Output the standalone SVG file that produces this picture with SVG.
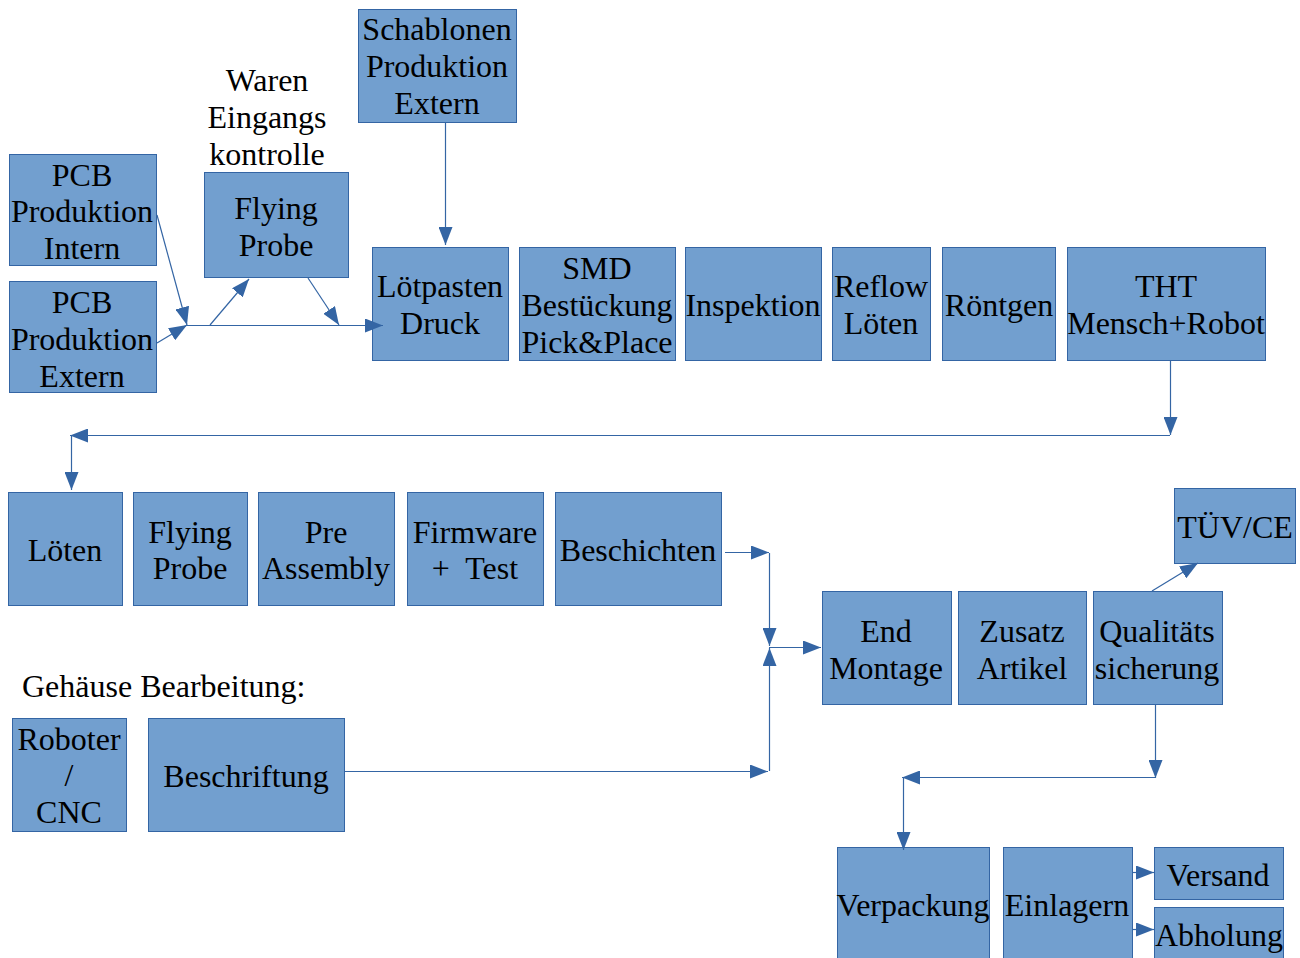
<svg xmlns="http://www.w3.org/2000/svg" width="1300" height="958" viewBox="0 0 1300 958">
<style>
.b{fill:#729fcf;stroke:#3465a4;stroke-width:1}
.t{font-family:"Liberation Serif","Times New Roman",serif;font-size:32px;fill:#000;text-anchor:middle}
.l{font-family:"Liberation Serif","Times New Roman",serif;font-size:32px;fill:#000}
.c{fill:none;stroke:#3465a4;stroke-width:1.2;marker-end:url(#a)}
</style>
<defs>
<marker id="a" markerUnits="userSpaceOnUse" markerWidth="20" markerHeight="14" refX="18" refY="7" orient="auto">
<path d="M0,0 L18,7 L0,14 Z" fill="#3465a4"/>
</marker>
</defs>
<rect width="1300" height="958" fill="#fff"/>

<g id="pcb-intern"><rect class="b" x="9.5" y="154.5" width="147" height="111"/><text class="t" x="82" y="186">PCB</text><text class="t" x="82" y="222">Produktion</text><text class="t" x="82" y="259">Intern</text></g>
<g id="pcb-extern"><rect class="b" x="9.5" y="281.5" width="147" height="111"/><text class="t" x="82" y="313">PCB</text><text class="t" x="82" y="350">Produktion</text><text class="t" x="82" y="387">Extern</text></g>
<g id="waren-label"><text class="t" x="267" y="91">Waren</text><text class="t" x="267" y="128">Eingangs</text><text class="t" x="267" y="165">kontrolle</text></g>
<g id="flying-probe-1"><rect class="b" x="204.5" y="172.5" width="144" height="105"/><text class="t" x="276" y="219">Flying</text><text class="t" x="276" y="256">Probe</text></g>
<g id="schablonen"><rect class="b" x="358.5" y="9.5" width="158" height="113"/><text class="t" x="437" y="40">Schablonen</text><text class="t" x="437" y="77">Produktion</text><text class="t" x="437" y="114">Extern</text></g>
<g id="loetpasten"><rect class="b" x="372.5" y="247.5" width="136" height="113"/><text class="t" x="440" y="297">Lötpasten</text><text class="t" x="440" y="334">Druck</text></g>
<g id="smd"><rect class="b" x="519.5" y="247.5" width="156" height="113"/><text class="t" x="597" y="279">SMD</text><text class="t" x="597" y="316">Bestückung</text><text class="t" x="597" y="353">Pick&amp;Place</text></g>
<g id="inspektion"><rect class="b" x="685.5" y="247.5" width="136" height="113"/><text class="t" x="753" y="316">Inspektion</text></g>
<g id="reflow"><rect class="b" x="832.5" y="247.5" width="98" height="113"/><text class="t" x="881" y="297">Reflow</text><text class="t" x="881" y="334">Löten</text></g>
<g id="roentgen"><rect class="b" x="942.5" y="247.5" width="113" height="113"/><text class="t" x="999" y="316">Röntgen</text></g>
<g id="tht"><rect class="b" x="1067.5" y="247.5" width="198" height="113"/><text class="t" x="1166" y="297">THT</text><text class="t" x="1166" y="334">Mensch+Robot</text></g>

<g id="loeten"><rect class="b" x="8.5" y="492.5" width="114" height="113"/><text class="t" x="65" y="561">Löten</text></g>
<g id="flying-probe-2"><rect class="b" x="133.5" y="492.5" width="114" height="113"/><text class="t" x="190" y="543">Flying</text><text class="t" x="190" y="579">Probe</text></g>
<g id="pre-assembly"><rect class="b" x="258.5" y="492.5" width="136" height="113"/><text class="t" x="326" y="543">Pre</text><text class="t" x="326" y="579">Assembly</text></g>
<g id="firmware"><rect class="b" x="407.5" y="492.5" width="136" height="113"/><text class="t" x="475" y="543">Firmware</text><text class="t" x="475" y="579" xml:space="preserve">+  Test</text></g>
<g id="beschichten"><rect class="b" x="555.5" y="492.5" width="166" height="113"/><text class="t" x="638" y="561">Beschichten</text></g>

<g id="tuev"><rect class="b" x="1174.5" y="488.5" width="121" height="75"/><text class="t" x="1235" y="538">TÜV/CE</text></g>
<g id="end-montage"><rect class="b" x="822.5" y="591.5" width="129" height="113"/><text class="t" x="886" y="642">End</text><text class="t" x="886" y="679">Montage</text></g>
<g id="zusatz"><rect class="b" x="958.5" y="591.5" width="128" height="113"/><text class="t" x="1022" y="642">Zusatz</text><text class="t" x="1022" y="679">Artikel</text></g>
<g id="qualitaet"><rect class="b" x="1093.5" y="591.5" width="129" height="113"/><text class="t" x="1157" y="642">Qualitäts</text><text class="t" x="1157" y="679">sicherung</text></g>

<g id="gehaeuse-label"><text class="l" x="22" y="697">Gehäuse Bearbeitung:</text></g>
<g id="roboter"><rect class="b" x="12.5" y="718.5" width="114" height="113"/><text class="t" x="69" y="750">Roboter</text><text class="t" x="69" y="786">/</text><text class="t" x="69" y="823">CNC</text></g>
<g id="beschriftung"><rect class="b" x="148.5" y="718.5" width="196" height="113"/><text class="t" x="246" y="787">Beschriftung</text></g>

<g id="verpackung"><rect class="b" x="837.5" y="847.5" width="152" height="120"/><text class="t" x="913" y="916">Verpackung</text></g>
<g id="einlagern"><rect class="b" x="1003.5" y="847.5" width="129" height="120"/><text class="t" x="1067" y="916">Einlagern</text></g>
<g id="versand"><rect class="b" x="1154.5" y="847.5" width="129" height="52"/><text class="t" x="1218" y="886">Versand</text></g>
<g id="abholung"><rect class="b" x="1154.5" y="907.5" width="129" height="60"/><text class="t" x="1219" y="946">Abholung</text></g>

<g id="connectors">
<path class="c" d="M157,215 L187,325"/>
<path class="c" d="M157,343 L187,325"/>
<path class="c" d="M187,325.5 L383,325.5"/>
<path class="c" d="M210,325 L249,279"/>
<path class="c" d="M308,278 L339,325"/>
<path class="c" d="M445.5,122 L445.5,245"/>
<path class="c" d="M1170.5,361 L1170.5,435"/>
<path class="c" d="M1170,435.5 L70,435.5"/>
<path class="c" d="M71.5,435 L71.5,490"/>
<path class="c" d="M725,552.5 L769,552.5"/>
<path class="c" d="M769.5,553 L769.5,646"/>
<path class="c" d="M769,647.5 L821,647.5"/>
<path class="c" d="M345,771.5 L768,771.5"/>
<path class="c" d="M769.5,771 L769.5,648"/>
<path class="c" d="M1152,591 L1198,563"/>
<path class="c" d="M1155.5,705 L1155.5,778"/>
<path class="c" d="M1155,777.5 L902,777.5"/>
<path class="c" d="M903.5,777 L903.5,850"/>
<path class="c" d="M1133,872.5 L1154,872.5"/>
<path class="c" d="M1133,929.5 L1154,929.5"/>
</g>
</svg>
